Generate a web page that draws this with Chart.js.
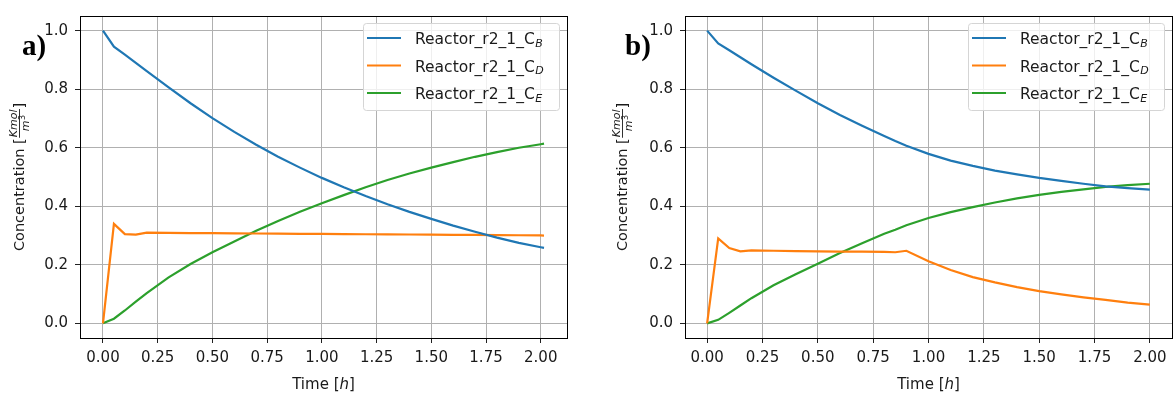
<!DOCTYPE html>
<html><head><meta charset="utf-8">
<script src="https://cdn.jsdelivr.net/npm/chart.js@4.4.0/dist/chart.umd.min.js"></script>
<style>
html,body{margin:0;padding:0;background:#fff;width:1174px;height:394px;overflow:hidden}
.box{position:absolute;top:0;height:394px}
#wa{left:0;width:590px}
#wb{left:590px;width:584px}
canvas{display:block}
</style></head><body>
<div class="box" id="wa"><canvas id="ca" width="590" height="394"></canvas></div>
<div class="box" id="wb"><canvas id="cb" width="584" height="394"></canvas></div>
<script>
// ---- data ----
const seriesBase = 'Reactor_r2_1_C';
const seriesSubs = ['B', 'D', 'E'];
const seriesColors = ['#1f77b4', '#ff7f0e', '#2ca02c'];
const panelLabels = ['a)', 'b)'];

const timeA = [0, 0.05, 0.1, 0.15, 0.2, 0.3, 0.4, 0.5, 0.6, 0.7, 0.8, 0.9, 1.0, 1.1, 1.2, 1.3, 1.4, 1.5, 1.6, 1.7, 1.8, 1.9, 2.0, 2.015];
const cbA = [1.0, 0.945, 0.918, 0.89, 0.862, 0.806, 0.752, 0.701, 0.654, 0.61, 0.569, 0.532, 0.497, 0.465, 0.435, 0.407, 0.381, 0.357, 0.334, 0.313, 0.293, 0.275, 0.26, 0.258];
const cdA = [0, 0.34, 0.305, 0.303, 0.31, 0.309, 0.3085, 0.308, 0.3075, 0.307, 0.3065, 0.306, 0.3055, 0.305, 0.3045, 0.304, 0.3035, 0.303, 0.3025, 0.302, 0.3015, 0.301, 0.3005, 0.3];
const ceA = [0, 0.016, 0.044, 0.074, 0.103, 0.157, 0.203, 0.243, 0.28, 0.316, 0.35, 0.381, 0.41, 0.438, 0.465, 0.49, 0.512, 0.532, 0.551, 0.569, 0.585, 0.6, 0.612, 0.614];

const timeB = [0, 0.05, 0.1, 0.15, 0.2, 0.3, 0.4, 0.5, 0.6, 0.7, 0.8, 0.85, 0.9, 1.0, 1.1, 1.2, 1.3, 1.4, 1.5, 1.6, 1.7, 1.8, 1.9, 2.0];
const cbB = [1.0, 0.956, 0.933, 0.909, 0.885, 0.839, 0.795, 0.752, 0.712, 0.675, 0.64, 0.623, 0.607, 0.579, 0.556, 0.538, 0.522, 0.509, 0.497, 0.487, 0.477, 0.468, 0.462, 0.457];
const cdB = [0, 0.29, 0.257, 0.246, 0.249, 0.248, 0.247, 0.246, 0.245, 0.245, 0.244, 0.243, 0.248, 0.212, 0.182, 0.158, 0.14, 0.124, 0.11, 0.099, 0.089, 0.08, 0.071, 0.064];
const ceB = [0, 0.012, 0.036, 0.061, 0.086, 0.13, 0.168, 0.204, 0.24, 0.274, 0.306, 0.32, 0.335, 0.36, 0.38, 0.397, 0.413, 0.427, 0.439, 0.449, 0.458, 0.466, 0.472, 0.477];

const xTicks = [0, 0.25, 0.5, 0.75, 1.0, 1.25, 1.5, 1.75, 2.0];
const yTicks = [0, 0.2, 0.4, 0.6, 0.8, 1.0];
const xTitle = ['Time [', 'h', ']'];
const yTitle = ['Concentration [', 'Kmol', 'm', '3', ']'];

// ---- style ----
const FONT = '"DejaVu Sans", sans-serif';
const TXT = '#1a1a1a';

function pts(t, v) { return t.map((x, i) => ({ x: x, y: v[i] })); }

function overlay(cfg) {
  return {
    id: 'overlay',
    afterDatasetsDraw(chart) {
      const ctx = chart.ctx, a = chart.chartArea;
      ctx.save();
      // frame
      ctx.strokeStyle = '#000'; ctx.lineWidth = 1;
      ctx.strokeRect(Math.round(a.left) + 0.5, Math.round(a.top) + 0.5, Math.round(a.right - a.left), Math.round(a.bottom - a.top));
      // legend
      const bw = 196, bh = 87;
      const bx = a.right - 8 - bw, by = a.top + 7;
      ctx.beginPath();
      if (ctx.roundRect) ctx.roundRect(bx + 0.5, by + 0.5, bw, bh, 3); else ctx.rect(bx + 0.5, by + 0.5, bw, bh);
      ctx.fillStyle = 'rgba(255,255,255,0.8)'; ctx.fill();
      ctx.strokeStyle = '#d5d5d5'; ctx.lineWidth = 1; ctx.stroke();
      for (let i = 0; i < 3; i++) {
        const yy = by + 15 + i * 27.5;
        ctx.strokeStyle = seriesColors[i]; ctx.lineWidth = 2.2;
        ctx.beginPath(); ctx.moveTo(bx + 4, yy); ctx.lineTo(bx + 38, yy); ctx.stroke();
        ctx.fillStyle = TXT; ctx.textBaseline = 'alphabetic'; ctx.textAlign = 'left';
        ctx.font = '15.5px ' + FONT;
        ctx.fillText(seriesBase, bx + 52, yy + 6);
        const w = ctx.measureText(seriesBase).width;
        ctx.font = 'italic 11px ' + FONT;
        ctx.fillText(seriesSubs[i], bx + 52 + w + 0.5, yy + 8.5);
      }
      // x title
      ctx.fillStyle = TXT; ctx.textBaseline = 'alphabetic'; ctx.textAlign = 'left';
      ctx.font = '15px ' + FONT;
      const w0 = ctx.measureText(xTitle[0]).width;
      const w2 = ctx.measureText(xTitle[2]).width;
      ctx.font = 'italic 15px ' + FONT;
      const w1 = ctx.measureText(xTitle[1]).width;
      let xx = (a.left + a.right) / 2 - (w0 + w1 + w2) / 2;
      const yb = 389;
      ctx.font = '15px ' + FONT; ctx.fillText(xTitle[0], xx, yb); xx += w0;
      ctx.font = 'italic 15px ' + FONT; ctx.fillText(xTitle[1], xx, yb); xx += w1;
      ctx.font = '15px ' + FONT; ctx.fillText(xTitle[2], xx, yb);
      // y title (rotated) with fraction
      ctx.save();
      ctx.translate(a.left - cfg.yTitleOff, (a.top + a.bottom) / 2);
      ctx.rotate(-Math.PI / 2);
      ctx.font = '14.5px ' + FONT;
      const m0 = ctx.measureText(yTitle[0]).width;
      const m4 = ctx.measureText(yTitle[4]).width;
      ctx.font = 'italic 11px ' + FONT;
      const mn = ctx.measureText(yTitle[1]).width;
      const mm = ctx.measureText(yTitle[2]).width;
      ctx.font = '8px ' + FONT;
      const m3 = ctx.measureText(yTitle[3]).width;
      const fw = Math.max(mn, mm + m3) + 2;
      let u = -(m0 + fw + m4) / 2;
      ctx.fillStyle = TXT;
      ctx.font = '14.5px ' + FONT; ctx.fillText(yTitle[0], u, 0); u += m0;
      ctx.font = 'italic 11px ' + FONT; ctx.textAlign = 'center';
      ctx.fillText(yTitle[1], u + fw / 2, -7);
      ctx.strokeStyle = TXT; ctx.lineWidth = 0.9;
      ctx.beginPath(); ctx.moveTo(u + 0.5, -4.5); ctx.lineTo(u + fw - 0.5, -4.5); ctx.stroke();
      ctx.textAlign = 'left';
      const dx = u + fw / 2 - (mm + m3) / 2;
      ctx.font = 'italic 11px ' + FONT;
      ctx.fillText(yTitle[2], dx, 4.5);
      ctx.font = '8px ' + FONT; ctx.fillText(yTitle[3], dx + mm + 0.5, 0.5);
      u += fw;
      ctx.font = '14.5px ' + FONT; ctx.fillText(yTitle[4], u, 0);
      ctx.restore();
      // panel label
      ctx.fillStyle = '#000'; ctx.textAlign = 'left';
      ctx.font = 'bold 29px "Liberation Serif", "Times New Roman", serif';
      ctx.fillText(cfg.label, cfg.labelX, cfg.labelY);
      ctx.restore();
    }
  };
}

function makeChart(id, t, b, d, e, cfg) {
  const sets = [b, d, e].map((v, i) => ({
    label: seriesBase + '_' + seriesSubs[i],
    data: pts(t, v),
    borderColor: seriesColors[i],
    backgroundColor: seriesColors[i],
    borderWidth: 2.2,
    pointRadius: 0,
    tension: 0,
    fill: false
  }));
  return new Chart(document.getElementById(id), {
    type: 'line',
    data: { datasets: sets },
    options: {
      responsive: false,
      animation: false,
      layout: { padding: { top: cfg.padTop, right: cfg.padRight, left: 0, bottom: 0 } },
      plugins: { legend: { display: false }, tooltip: { enabled: false } },
      scales: {
        x: {
          type: 'linear', min: cfg.xmin, max: cfg.xmax,
          afterBuildTicks: s => { s.ticks = xTicks.map(v => ({ value: v })); },
          afterFit: s => { s.height = 394 - cfg.bottom; },
          grid: { color: '#b0b0b0', lineWidth: 1, drawTicks: true, tickLength: 5, tickColor: '#222' },
          border: { display: false },
          ticks: { color: TXT, font: { family: 'DejaVu Sans', size: 15 }, padding: 6, maxRotation: 0,
                   callback: v => Number(v).toFixed(2) }
        },
        y: {
          type: 'linear', min: -0.05, max: 1.05,
          afterBuildTicks: s => { s.ticks = yTicks.map(v => ({ value: v })); },
          afterFit: s => { s.width = cfg.yWidth; },
          grid: { color: '#b0b0b0', lineWidth: 1, drawTicks: true, tickLength: 5, tickColor: '#222' },
          border: { display: false },
          ticks: { color: TXT, font: { family: 'DejaVu Sans', size: 15 }, padding: 7,
                   callback: v => Number(v).toFixed(1) }
        }
      }
    },
    plugins: [overlay(cfg)]
  });
}

makeChart('ca', timeA, cbA, cdA, ceA, {
  xmin: -0.105, xmax: 2.12, padTop: 9, padRight: 23, bottom: 338, yWidth: 80,
  yTitleOff: 56, label: panelLabels[0], labelX: 22, labelY: 55
});
makeChart('cb', timeB, cbB, cdB, ceB, {
  xmin: -0.1, xmax: 2.1, padTop: 7, padRight: 2, bottom: 338, yWidth: 95,
  yTitleOff: 58, label: panelLabels[1], labelX: 35, labelY: 55
});
</script>
</body></html>
